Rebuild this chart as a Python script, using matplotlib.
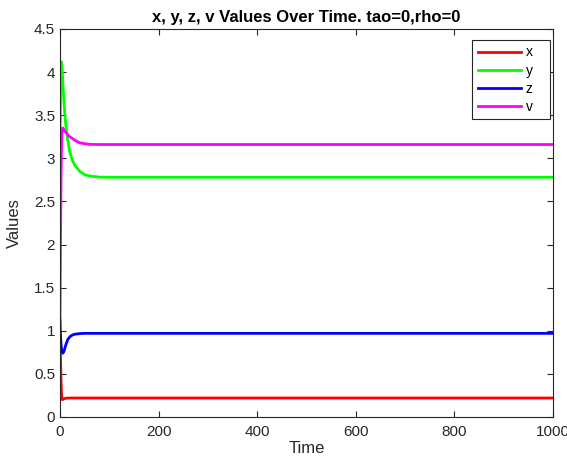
import matplotlib
matplotlib.use("Agg")
import matplotlib.pyplot as plt

plt.rcParams["font.family"] = ["Liberation Sans", "DejaVu Sans"]

# time samples (dense during the transient, flat afterwards)
t = [0, 1, 2, 3, 4, 5, 6, 8, 10, 12, 14, 16, 20, 25, 30, 40, 50, 60, 80, 100, 1000]
x_vals = [0.95, 0.7, 0.45, 0.28, 0.21, 0.2, 0.205, 0.21, 0.215, 0.217, 0.218, 0.219,
          0.22, 0.22, 0.22, 0.22, 0.22, 0.22, 0.22, 0.22, 0.22]
y_vals = [2.9, 3.7, 4.05, 4.12, 4.08, 3.97, 3.85, 3.65, 3.5, 3.38, 3.28, 3.2,
          3.07, 2.98, 2.92, 2.85, 2.81, 2.795, 2.782, 2.78, 2.78]
z_vals = [1.12, 0.95, 0.85, 0.79, 0.76, 0.745, 0.74, 0.76, 0.8, 0.84, 0.87, 0.9,
          0.93, 0.95, 0.96, 0.967, 0.97, 0.97, 0.97, 0.97, 0.97]
v_vals = [1.1, 2.0, 2.7, 3.1, 3.3, 3.35, 3.35, 3.33, 3.31, 3.3, 3.29, 3.27,
          3.25, 3.23, 3.21, 3.18, 3.17, 3.162, 3.16, 3.16, 3.16]

series = [("x", x_vals, (1, 0, 0)), ("y", y_vals, (0, 1, 0)),
          ("z", z_vals, (0, 0, 1)), ("v", v_vals, (1, 0, 1))]

fig = plt.figure(figsize=(5.67, 4.63), dpi=100)
ax = fig.add_axes([0.1058, 0.0994, 0.8695, 0.838])
for name, vals, col in series:
    ax.plot(t, vals, color=col, lw=2, label=name)

ax.set_xlim(0, 1000)
ax.set_ylim(0, 4.5)
ax.set_xticks(range(0, 1001, 200))
ax.set_yticks([i * 0.5 for i in range(10)])
ax.set_yticklabels(["0", "0.5", "1", "1.5", "2", "2.5", "3", "3.5", "4", "4.5"])
ax.tick_params(direction="in", labelsize=11, colors="#262626", length=4, top=True, right=True,
               labeltop=False, labelright=False)
ax.tick_params(axis="x", pad=6)
for s in ax.spines.values():
    s.set_color("#262626")
    s.set_linewidth(0.8)
ax.set_xlabel("Time", fontsize=12, color="#262626", labelpad=1)
ax.set_ylabel("Values", fontsize=12, color="#262626", labelpad=9)
ax.set_title("x, y, z, v Values Over Time. tao=0,rho=0", fontsize=12, fontweight="bold", pad=5)

# MATLAB-style legend leaves extra room right of the labels
handles, labels = ax.get_legend_handles_labels()
leg = ax.legend(handles, [lb + "   " for lb in labels], loc="upper right",
                bbox_to_anchor=(0.994, 0.972), borderaxespad=0,
                fancybox=False, edgecolor="#262626", fontsize=10, handlelength=3.1,
                handletextpad=0.35, labelspacing=0.3, borderpad=0.4, framealpha=1)
leg.get_frame().set_linewidth(0.8)

fig.savefig("out.png", dpi=100)
